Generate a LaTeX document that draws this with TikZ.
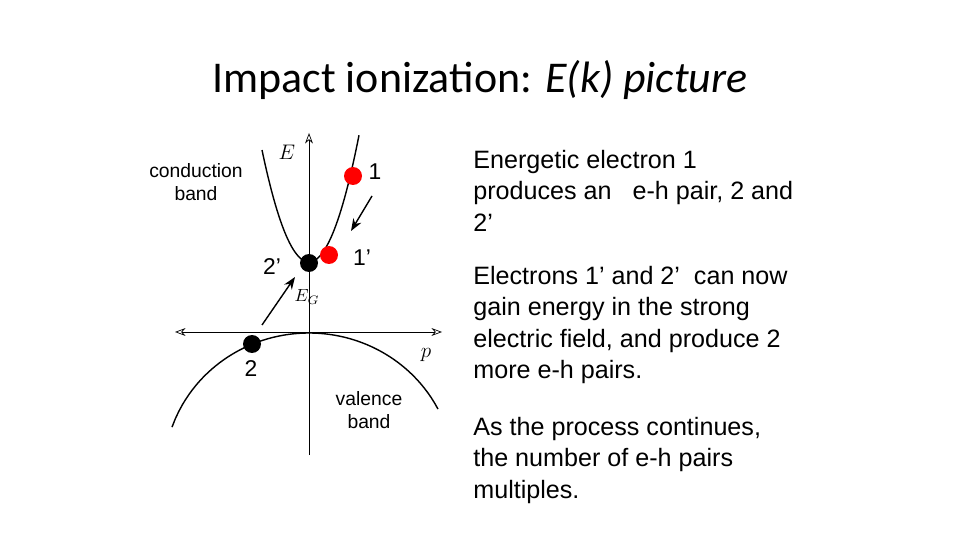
\documentclass[tikz,border=0pt]{standalone}
\usepackage{fontspec}
\setmainfont{Liberation Sans}
\newfontfamily\titlefont{Carlito}
\usetikzlibrary{arrows.meta}
\tikzset{
  dot/.style={circle,inner sep=0pt,minimum size=0.36cm},
  lbl/.style={font=\fontsize{11}{13}\selectfont},
  num/.style={font=\fontsize{13}{15}\selectfont},
  para/.style={align=left,anchor=north west,inner sep=0pt,
    font=\fontsize{14.3}{17.8}\selectfont}
}
\begin{document}
\begin{tikzpicture}[x=0.02cm,y=-0.02cm]
  \useasboundingbox (0,0) rectangle (960,540);
  % title
  \node (title) at (480,80) {\titlefont\fontsize{25}{30}\selectfont Impact ionization: \textit{E(k) picture}};

  % axes
  \draw[-{Stealth[length=6pt,open]}] (309,455) -- (309,133);
  \draw[{Stealth[length=6pt,open]}-{Stealth[length=6pt,open]}] (175,332) -- (442,332);
  \node (E) at (287,152) {\large$E$};
  \node (p) at (426,355) {\large$p$};
  \node (EG) at (307,297) {$E_G$};

  % bands
  \draw[thick] plot[domain=262:359,samples=60] (\x,{262-5.07*((\x-309)/10)^2});
  \draw[thick] plot[domain=172:438,samples=80] (\x,{333+140*(1-sqrt(1-((\x-309)/145)^2))});
  \node[lbl,align=center] (cb) at (196,182) {conduction\\band};
  \node[lbl,align=center] (vb) at (369,410) {valence\\band};

  % carriers
  \node[dot,fill=red] (one) at (353,176) {};
  \node[dot,fill=red] (onep) at (329,255) {};
  \node[dot,fill=black] (twop) at (309,263) {};
  \node[dot,fill=black] (two) at (252,344) {};
  \node[num] (l1) at (375,172) {1};
  \node[num] (l1p) at (362,258) {1'};
  \node[num] (l2p) at (272,267) {2'};
  \node[num] (l2) at (251,369) {2};

  % transitions
  \coordinate (a1) at (372,196);
  \coordinate (a2) at (351,231);
  \coordinate (b1) at (262,325);
  \coordinate (b2) at (295,277);
  \draw[thick,-{Stealth[length=7pt]}] (a1) -- (a2);
  \draw[thick,-{Stealth[length=7pt]}] (b1) -- (b2);

  % text
  \node[para] (t1) at (473,150) {Energetic electron 1\\produces an \ \ e-h pair, 2 and\\2'};
  \node[para] (t2) at (473,266) {Electrons 1' and 2' \ can now\\gain energy in the strong\\electric field, and produce 2\\more e-h pairs.};
  \node[para] (t3) at (473,417) {As the process continues,\\the number of e-h pairs\\multiples.};
\end{tikzpicture}
\end{document}
